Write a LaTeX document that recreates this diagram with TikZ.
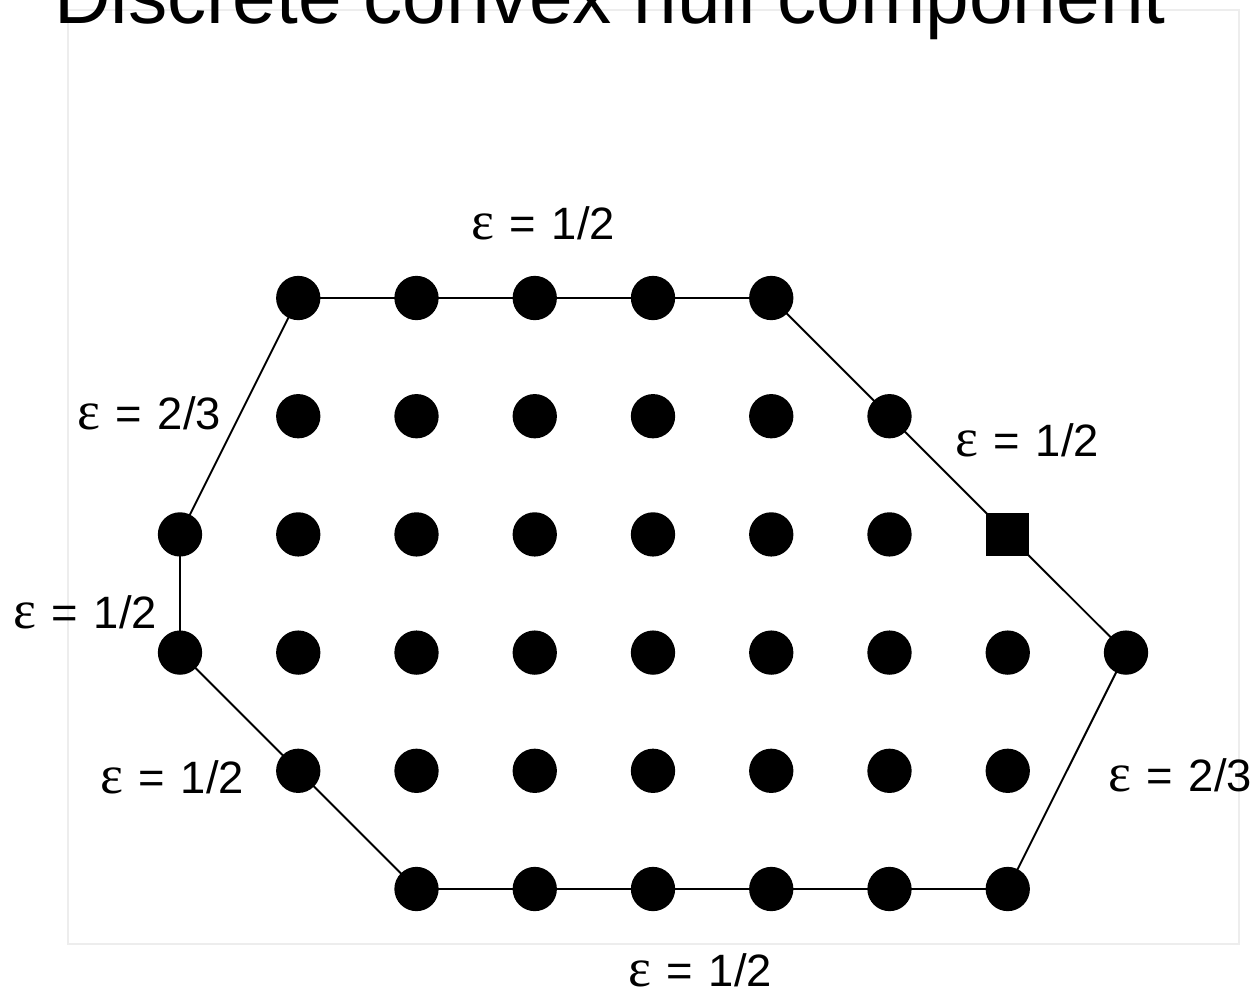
\documentclass[tikz,border=0pt]{standalone}
\usepackage{fontspec}
\setmainfont{Liberation Sans}
\newfontfamily\epsfont{Liberation Serif}
\newcommand\epslbl[1]{{\epsfont\fontsize{15.5}{16}\selectfont ε}\hspace{4.3pt}=\hspace{4.6pt}#1}
\begin{document}
\begin{tikzpicture}[x=0.01cm,y=-0.01cm,
  dot/.style={circle,fill=black,inner sep=0pt,minimum size=12.6pt},
  sqdot/.style={rectangle,fill=black,inner sep=0pt,minimum size=12.3pt},
  hull/.style={draw=black,line width=0.55pt},
  frame/.style={draw=black!7,line width=0.45pt},
  lbl/.style={inner sep=0pt,font=\fontsize{12.9}{14}\selectfont},
  ttl/.style={inner sep=0pt,anchor=base,font=\fontsize{22.3}{26}\selectfont}]
\clip (0,0) rectangle (1254,993);
\useasboundingbox (0,0) rectangle (1254,993);
\draw[frame] (68,10) rectangle (1239,944);
\node[ttl] (title) at (610,23) {Discrete convex hull component};
\foreach \c/\r in {1/0,2/0,3/0,4/0,5/0,1/1,2/1,3/1,4/1,5/1,6/1,0/2,1/2,2/2,3/2,4/2,5/2,6/2,7/2,0/3,1/3,2/3,3/3,4/3,5/3,6/3,7/3,8/3,1/4,2/4,3/4,4/4,5/4,6/4,7/4,2/5,3/5,4/5,5/5,6/5,7/5}
  \coordinate (p\c\r) at ({180+118.25*\c},{298+118.2*\r});
\draw[hull] (p10) -- (p50) -- (p61) -- (p72) -- (p83) -- (p75) -- (p25) -- (p14) -- (p03) -- (p02) -- cycle;
\foreach \c/\r in {1/0,2/0,3/0,4/0,5/0,1/1,2/1,3/1,4/1,5/1,6/1,0/2,1/2,2/2,3/2,4/2,5/2,6/2,0/3,1/3,2/3,3/3,4/3,5/3,6/3,7/3,8/3,1/4,2/4,3/4,4/4,5/4,6/4,7/4,2/5,3/5,4/5,5/5,6/5,7/5}
  \node[dot] (d\c\r) at (p\c\r) {};
\node[sqdot] (s72) at (p72) {};
\node[lbl] (e1) at (543,223) {\epslbl{1/2}};
\node[lbl] (e2) at (149,413) {\epslbl{2/3}};
\node[lbl] (e3) at (1027,440) {\epslbl{1/2}};
\node[lbl] (e4) at (85,612) {\epslbl{1/2}};
\node[lbl] (e5) at (172,777) {\epslbl{1/2}};
\node[lbl] (e6) at (1180,775) {\epslbl{2/3}};
\node[lbl] (e7) at (700,970) {\epslbl{1/2}};
\end{tikzpicture}
\end{document}
